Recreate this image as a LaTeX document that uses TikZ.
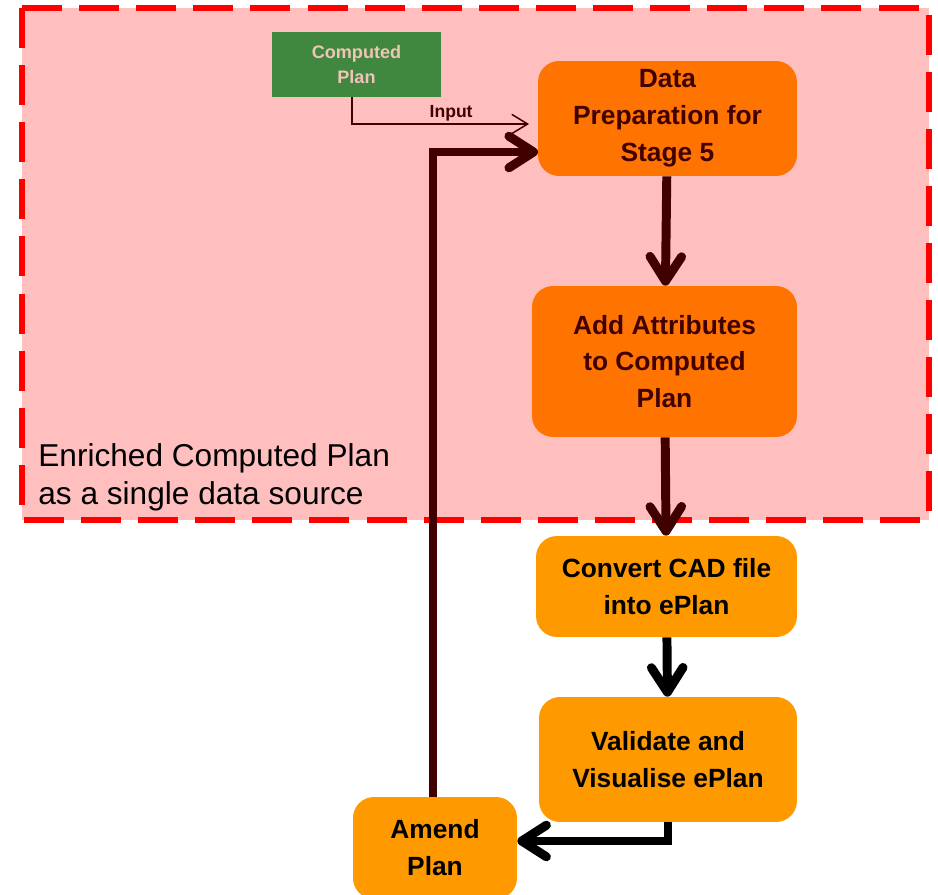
\documentclass[tikz,border=0pt]{standalone}
\usepackage{fontspec}
\setmainfont{Liberation Sans}
\usetikzlibrary{positioning,arrows.meta}
\definecolor{areapink}{RGB}{255,191,191}
\definecolor{areared}{RGB}{255,0,0}
\definecolor{prepfill}{RGB}{255,116,0}
\definecolor{planfill}{RGB}{255,153,0}
\definecolor{inputgreen}{RGB}{64,135,64}
\definecolor{inputtext}{RGB}{240,196,182}
\definecolor{darkmaroon}{RGB}{64,0,0}
\newcommand*{\stagefont}{\fontsize{15}{21}\selectfont\bfseries}

\begin{document}
\begin{tikzpicture}[x=0.02cm,y=-0.02cm,
  stagebox/.style={rounded corners=0.42cm,inner sep=0pt,align=center,font=\stagefont},
  flow/.style={line width=5.1pt,-{Straight Barb[round,length=14pt,width=18pt]}},
  thinflow/.style={line width=0.85pt,darkmaroon,-{Straight Barb[length=9pt,width=11pt]}}]
\useasboundingbox (0,0) rectangle (938,895);
\clip (0,0) rectangle (938,895);
% Shaded area holding the enriched plan
\draw [fill=areapink,draw=areared,line width=3.4pt,dash pattern=on 22.8pt off 9.7pt]
  (22,8) rectangle (929,520);
\node [anchor=north west,inner sep=0pt,align=left,font=\fontsize{18}{21.6}\selectfont]
  (caption) at (38,443) {Enriched Computed Plan\\as a single data source};
% Input box
\node [fill=inputgreen,text=inputtext,inner sep=0pt,minimum width=3.38cm,minimum height=1.3cm,
  align=center,font=\fontsize{10.3}{14.5}\selectfont\bfseries] (plan) at (356.5,64.5) {Computed\\Plan};
% Stages, top to bottom
\node [stagebox,fill=prepfill,text=darkmaroon,minimum width=5.18cm,minimum height=2.3cm]
  (prep) at (667.5,118.5) {Data\\Preparation for\\Stage 5};
\node [stagebox,fill=prepfill,text=darkmaroon,minimum width=5.3cm,minimum height=3.02cm]
  (attrs) at (664.5,361.5) {Add Attributes\\to Computed\\Plan};
\node [stagebox,fill=planfill,minimum width=5.22cm,minimum height=2.02cm]
  (convert) at (666.5,586.5) {Convert CAD file\\into ePlan};
\node [stagebox,fill=planfill,minimum width=5.16cm,minimum height=2.5cm]
  (validate) at (668,759.5) {Validate and\\Visualise ePlan};
\node [stagebox,fill=planfill,minimum width=3.28cm,minimum height=2.04cm]
  (amend) at (435,848) {Amend\\Plan};
% Input arrow ends short of the box
\coordinate (inend) at (529,124);
\draw [thinflow] ([xshift=-0.09cm]plan.south) |- node[pos=0.78,above,inner sep=1pt,
  text=darkmaroon,font=\fontsize{10}{12}\selectfont\bfseries] {Input} (inend);
% Main flow
\draw [flow,darkmaroon] (prep) -- (attrs);
\draw [flow,darkmaroon] (attrs) -- (convert);
\draw [flow] (convert) -- (validate);
\draw [flow] (validate.south) |- ([yshift=0.14cm]amend.east);
% Feedback loop
\coordinate (back) at (538,152);
\draw [flow,darkmaroon] ([xshift=-0.04cm]amend.north) |- (back);
\end{tikzpicture}
\end{document}
